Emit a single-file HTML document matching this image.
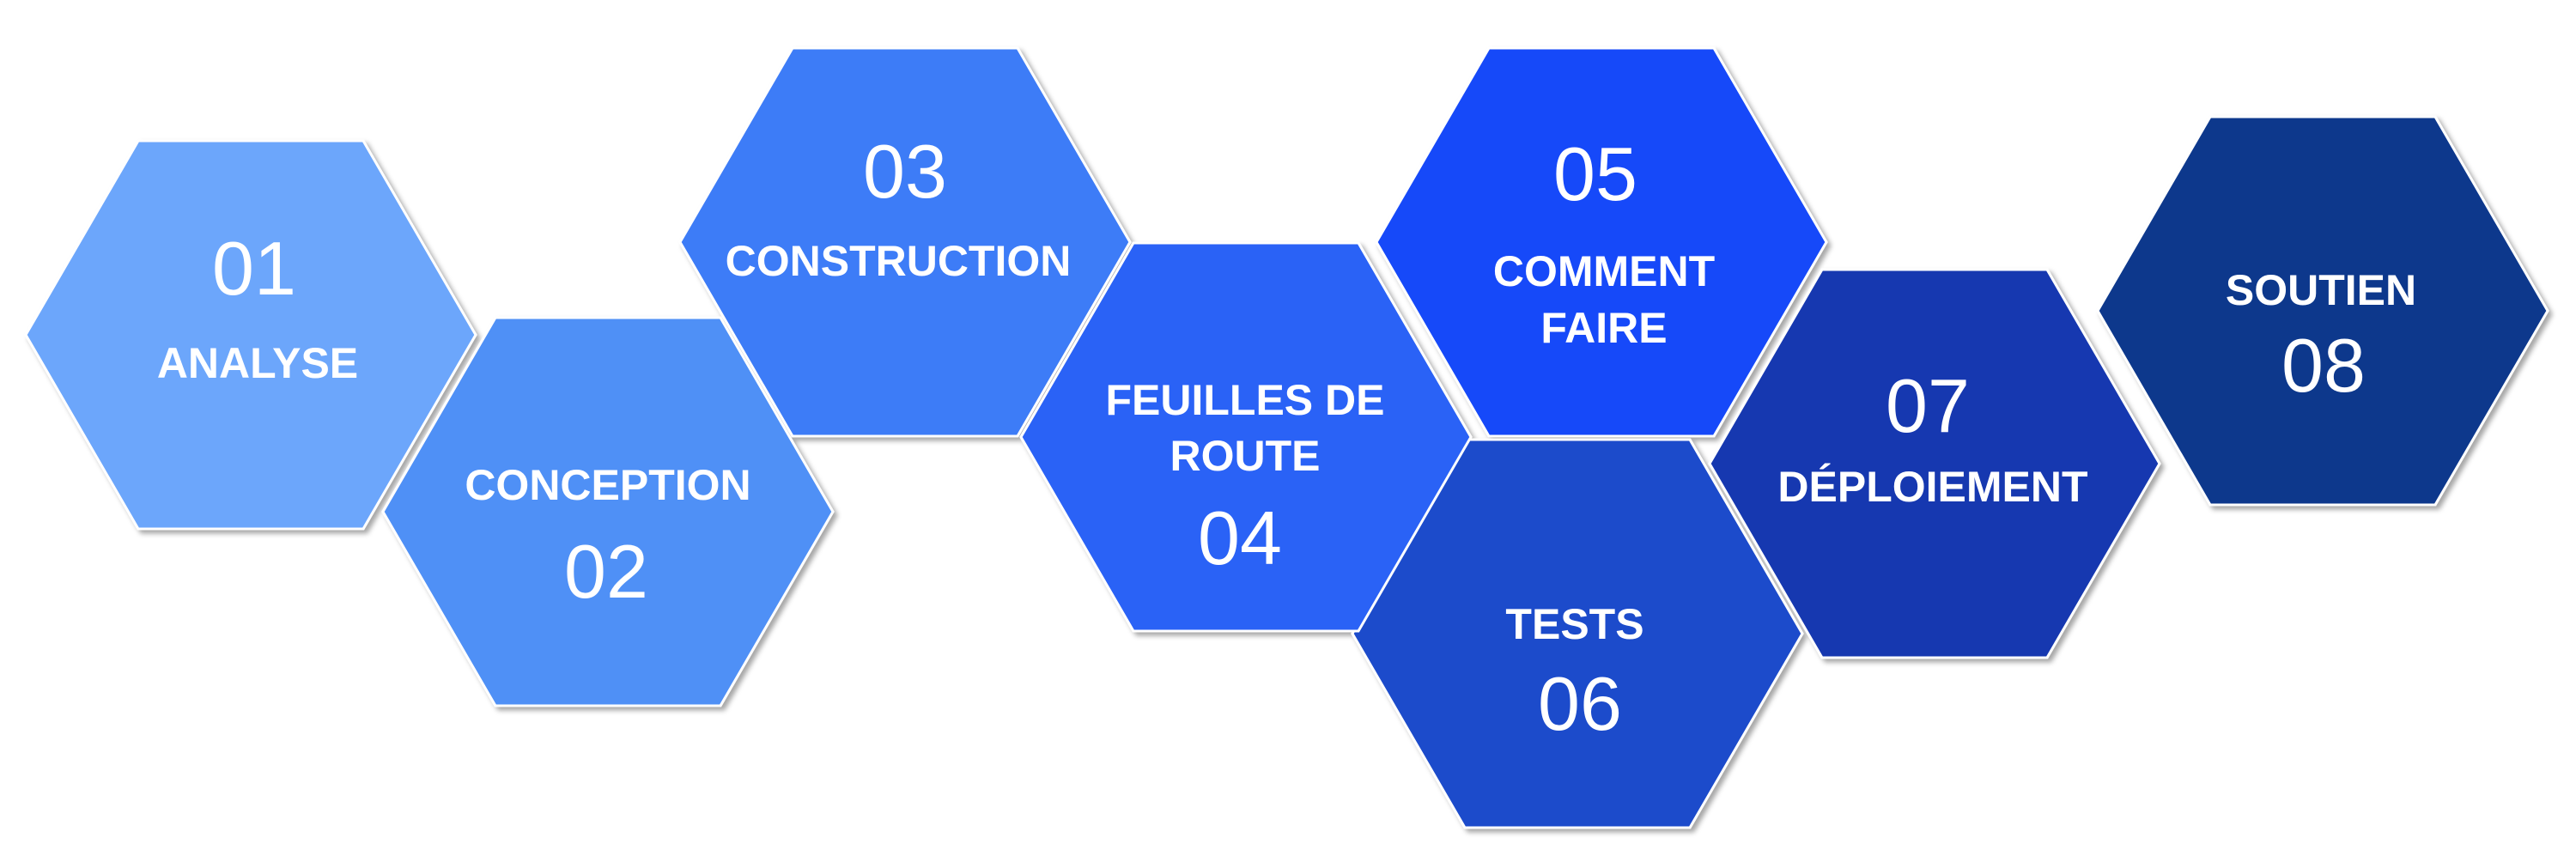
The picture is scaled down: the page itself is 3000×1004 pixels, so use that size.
<!DOCTYPE html>
<html><head><meta charset="utf-8"><style>
html,body{margin:0;padding:0;background:#fff;}
svg{display:block;}
text{font-family:"Liberation Sans","DejaVu Sans",sans-serif;fill:#fff;text-anchor:middle;}
.n{font-size:88px;font-weight:400;}
.l{font-size:50px;font-weight:700;}
</style></head><body>
<svg width="3000" height="1004" viewBox="0 0 3000 1004" xmlns="http://www.w3.org/2000/svg">
<defs>
<filter id="sh" x="-10%" y="-10%" width="120%" height="120%">
<feDropShadow dx="4" dy="4" stdDeviation="3" flood-color="#000" flood-opacity="0.35"/>
</filter>
</defs>
<g stroke="#fff" stroke-width="3" filter="url(#sh)">
<polygon points="30,390 161,164 423,164 554,390 423,616 161,616" fill="#6ca6fb"/>
<polygon points="446,596 577,370 839,370 970,596 839,822 577,822" fill="#5090f6"/>
<polygon points="792,282 923,56 1185,56 1316,282 1185,508 923,508" fill="#3d7bf7"/>
<polygon points="1575,738 1706,512 1968,512 2099,738 1968,964 1706,964" fill="#1b4ccb"/>
<polygon points="1189,509 1320,283 1582,283 1713,509 1582,735 1320,735" fill="#2962f6"/>
<polygon points="1603,282 1734,56 1996,56 2127,282 1996,508 1734,508" fill="#144af9"/>
<polygon points="1991,540 2122,314 2384,314 2515,540 2384,766 2122,766" fill="#1537b0"/>
<polygon points="2443,362 2574,136 2836,136 2967,362 2836,588 2574,588" fill="#0a378c"/>
</g>
<text class="n" x="296" y="343">01</text>
<text class="l" x="300" y="440">ANALYSE</text>
<text class="l" x="708" y="582">CONCEPTION</text>
<text class="n" x="706" y="696">02</text>
<text class="n" x="1054" y="230">03</text>
<text class="l" x="1046" y="321">CONSTRUCTION</text>
<text class="l" x="1450" y="483">FEUILLES DE</text>
<text class="l" x="1450" y="548">ROUTE</text>
<text class="n" x="1444" y="657">04</text>
<text class="n" x="1858" y="233">05</text>
<text class="l" x="1868" y="333">COMMENT</text>
<text class="l" x="1868" y="399">FAIRE</text>
<text class="l" x="1834" y="744">TESTS</text>
<text class="n" x="1840" y="850">06</text>
<text class="n" x="2245" y="503">07</text>
<text class="l" x="2251" y="584">DÉPLOIEMENT</text>
<text class="l" x="2703" y="355">SOUTIEN</text>
<text class="n" x="2706" y="456">08</text>
</svg>
</body></html>
